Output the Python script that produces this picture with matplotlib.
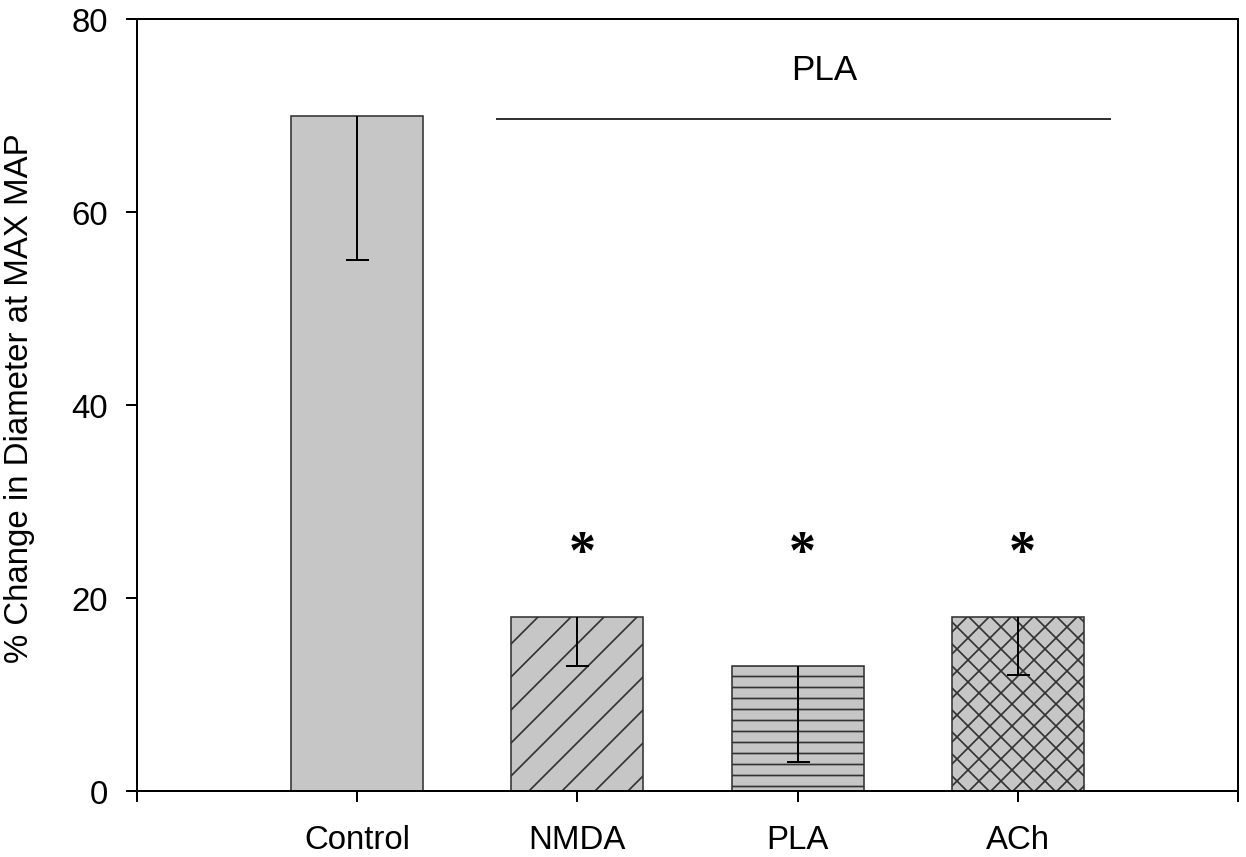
import numpy as np
import matplotlib.pyplot as plt

groups = ['Control', 'NMDA', 'PLA', 'ACh']
means = [70, 18, 13, 18]
err_low = [15, 5, 10, 6]
hatches = ['', '//', '---', 'xxx']
sig = ['', '*', '*', '*']

# dpi chosen so the built-in hatch densities match the original spacing
dpi = 198
px = 72 / dpi  # one pixel in points

plt.rcParams['font.family'] = ['Liberation Sans', 'DejaVu Sans']
plt.rcParams['hatch.linewidth'] = 1.7 * px
plt.rcParams['hatch.color'] = '#1e1e1e'

fig = plt.figure(figsize=(1246 / dpi, 858 / dpi), dpi=dpi)
ax = fig.add_axes([137 / 1246, 66 / 858, 1101 / 1246, 772 / 858])

x = np.arange(1, len(groups) + 1)
ax.bar(x, means, width=0.6, color='#c6c6c6', edgecolor='#333333',
       linewidth=1.6 * px, hatch=hatches, zorder=2)
eb = ax.errorbar(x, means, yerr=[err_low, [0] * len(means)], fmt='none',
                 ecolor='black', elinewidth=2 * px, capsize=11.5 * px,
                 capthick=2 * px, zorder=3)
# only the lower cap is drawn in the original
for cl in eb[1]:
    if np.allclose(cl.get_ydata(), means):
        cl.set_visible(False)

for xi, s in zip(x, sig):
    if s:
        ax.text(xi + 0.02, 24.6, s, ha='center', va='center',
                fontsize=54 * px, family='Liberation Serif', fontweight='bold')

ax.plot([1.635, 4.42], [69.6, 69.6], color='#333333', lw=2 * px)
ax.text(3.12, 74.8, 'PLA', ha='center', va='center', fontsize=35 * px)

ax.set_xlim(0, 5)
ax.set_ylim(0, 80)
ax.set_xticks(np.arange(0, 6))
ax.set_xticklabels([''] + groups + [''])
ax.set_yticks([0, 20, 40, 60, 80])
ax.tick_params(axis='both', direction='out', length=11 * px, width=2 * px,
               labelsize=33 * px)
ax.tick_params(axis='x', pad=22 * px)
ax.tick_params(axis='y', pad=18 * px)
for sp in ax.spines.values():
    sp.set_linewidth(2 * px)

ax.set_ylabel('% Change in Diameter at MAX MAP', fontsize=33 * px)
ax.yaxis.set_label_coords(-0.093, 0.51)

fig.savefig('out.png', dpi=dpi)
